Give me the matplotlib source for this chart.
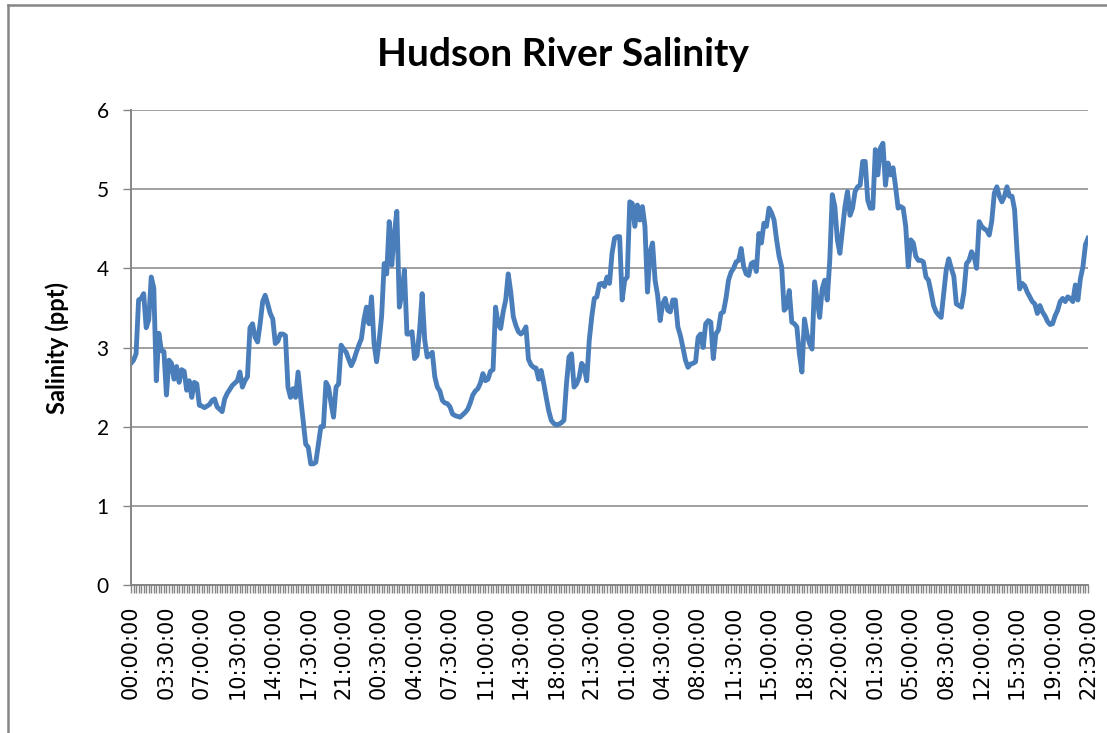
import matplotlib
matplotlib.use("Agg")
import matplotlib.pyplot as plt
from matplotlib.lines import Line2D

# salinity (ppt), 15 minute readings starting 00:00:00
day1 = [2.80, 2.84, 2.92, 3.60, 3.62, 3.68, 3.25, 3.35, 3.89, 3.75,
        2.58, 3.18, 2.96, 2.95, 2.40, 2.84, 2.80, 2.60, 2.76, 2.56,
        2.72, 2.70, 2.46, 2.58, 2.37, 2.56, 2.54, 2.27, 2.26, 2.24,
        2.26, 2.28, 2.33, 2.35, 2.25, 2.22, 2.19, 2.35, 2.42, 2.47,
        2.52, 2.55, 2.58, 2.69, 2.50, 2.58, 2.63, 3.25, 3.30, 3.13,
        3.07, 3.30, 3.58, 3.66, 3.55, 3.43, 3.36, 3.05, 3.08, 3.17,
        3.17, 3.15, 2.50, 2.37, 2.48, 2.37, 2.69, 2.37, 2.08, 1.78,
        1.74, 1.53, 1.53, 1.55, 1.78, 2.00, 2.00, 2.56, 2.50, 2.30,
        2.12, 2.50, 2.54, 3.03, 2.98, 2.94, 2.85, 2.77, 2.84, 2.94,
        3.03, 3.11, 3.35, 3.51, 3.30, 3.64]
day2 = [3.05, 2.82, 3.08, 3.40, 4.06, 3.93, 4.59, 4.04, 4.44, 4.72,
        3.51, 3.68, 3.98, 3.17, 3.17, 3.20, 2.86, 2.90, 3.22, 3.68,
        3.10, 2.88, 2.90, 2.94, 2.63, 2.50, 2.45, 2.33, 2.30, 2.29,
        2.25, 2.16, 2.14, 2.13, 2.12, 2.15, 2.18, 2.22, 2.30, 2.40,
        2.45, 2.48, 2.55, 2.67, 2.58, 2.60, 2.70, 2.72, 3.51, 3.30,
        3.24, 3.45, 3.60, 3.93, 3.70, 3.39, 3.28, 3.20, 3.17, 3.20,
        3.26, 2.85, 2.78, 2.75, 2.74, 2.60, 2.71, 2.55, 2.37, 2.20,
        2.08, 2.04, 2.02, 2.03, 2.05, 2.08, 2.54, 2.88, 2.92, 2.50,
        2.54, 2.62, 2.80, 2.75, 2.58, 3.09, 3.39, 3.62, 3.64, 3.80,
        3.81, 3.77, 3.89, 3.81, 4.19, 4.38]
day3 = [4.40, 4.40, 3.60, 3.85, 3.89, 4.84, 4.82, 4.53, 4.80, 4.61,
        4.78, 4.53, 3.70, 4.20, 4.32, 3.85, 3.66, 3.34, 3.55, 3.62,
        3.47, 3.45, 3.60, 3.60, 3.26, 3.15, 3.00, 2.84, 2.75, 2.79,
        2.80, 2.82, 3.13, 3.17, 3.00, 3.30, 3.34, 3.32, 2.86, 3.17,
        3.22, 3.43, 3.45, 3.62, 3.85, 3.95, 4.00, 4.08, 4.10, 4.25,
        4.02, 3.93, 3.91, 4.06, 4.08, 3.96, 4.44, 4.32, 4.57, 4.53,
        4.76, 4.70, 4.61, 4.36, 4.15, 4.02, 3.47, 3.51, 3.72, 3.32,
        3.30, 3.26, 2.92, 2.69, 3.36, 3.17, 3.05, 2.98, 3.83, 3.60,
        3.38, 3.74, 3.85, 3.60, 4.10, 4.93, 4.78, 4.36, 4.19, 4.48,
        4.78, 4.97, 4.67, 4.76, 4.97, 5.03]
day4 = [5.05, 5.35, 5.35, 4.86, 4.76, 4.76, 5.50, 5.18, 5.52, 5.58,
        5.05, 5.33, 5.18, 5.27, 5.03, 4.76, 4.78, 4.76, 4.53, 4.02,
        4.36, 4.32, 4.15, 4.10, 4.10, 4.08, 3.89, 3.85, 3.70, 3.53,
        3.45, 3.41, 3.38, 3.68, 3.98, 4.12, 4.00, 3.90, 3.55, 3.53,
        3.51, 3.70, 4.06, 4.10, 4.21, 4.15, 4.00, 4.59, 4.53, 4.50,
        4.48, 4.42, 4.60, 4.95, 5.03, 4.91, 4.84, 4.91, 5.03, 4.91,
        4.91, 4.74, 4.20, 3.74, 3.81, 3.78, 3.70, 3.64, 3.58, 3.55,
        3.43, 3.53, 3.45, 3.40, 3.33, 3.29, 3.30, 3.40, 3.47, 3.58,
        3.62, 3.58, 3.64, 3.62, 3.58, 3.79, 3.60, 3.87, 4.02, 4.30,
        4.38]
salinity = day1 + day2 + day3 + day4

tick_labels = ["00:00:00", "03:30:00", "07:00:00", "10:30:00", "14:00:00",
               "17:30:00", "21:00:00", "00:30:00", "04:00:00", "07:30:00",
               "11:00:00", "14:30:00", "18:00:00", "21:30:00", "01:00:00",
               "04:30:00", "08:00:00", "11:30:00", "15:00:00", "18:30:00",
               "22:00:00", "01:30:00", "05:00:00", "08:30:00", "12:00:00",
               "15:30:00", "19:00:00", "22:30:00"]
label_step = 14  # one label every 3.5 h of 15 min readings

grey = "#868686"

fig = plt.figure(figsize=(11.07, 7.33), dpi=100)
ax = fig.add_axes([131/1107, 1 - 585/733, (1088 - 131)/1107, (585 - 110)/733])

x = list(range(len(salinity)))
ax.plot(x, salinity, color="#4a7ebb", lw=3.5, solid_joinstyle="round")

ax.set_xlim(0, len(salinity) - 1)
ax.set_ylim(0, 6)
ax.set_yticks(range(0, 7))
ax.set_yticklabels([str(v) for v in range(0, 7)], fontsize=15, family="Lato")
ax.yaxis.grid(True, color=grey, lw=1.1)
ax.set_axisbelow(True)

ax.set_xticks([i * label_step for i in range(len(tick_labels))])
ax.set_xticklabels(tick_labels, rotation=90, fontsize=15, family="DejaVu Sans")
ax.set_xticks(x, minor=True)
ax.tick_params(axis="x", which="both", length=6, width=1, color=grey, pad=9)
ax.tick_params(axis="y", length=6, width=1, color=grey, pad=10)

for s in ["top", "right"]:
    ax.spines[s].set_visible(False)
for s in ["left", "bottom"]:
    ax.spines[s].set_color(grey)
    ax.spines[s].set_linewidth(1.4)

ax.set_ylabel("Salinity (ppt)", fontsize=17, fontweight="bold", family="Lato", labelpad=20)
fig.text(563/1107, 1 - 55/733, "Hudson River Salinity", ha="center", va="center",
         fontsize=28, fontweight="bold", family="Lato")

# chart frame (only left and top edges are inside the picture)
fig.add_artist(Line2D([8/1107, 8/1107], [0, 1 - 5/733], transform=fig.transFigure, color=grey, lw=1.8))
fig.add_artist(Line2D([8/1107, 1], [1 - 5/733, 1 - 5/733], transform=fig.transFigure, color=grey, lw=1.8))

fig.savefig("out.png", dpi=100)
